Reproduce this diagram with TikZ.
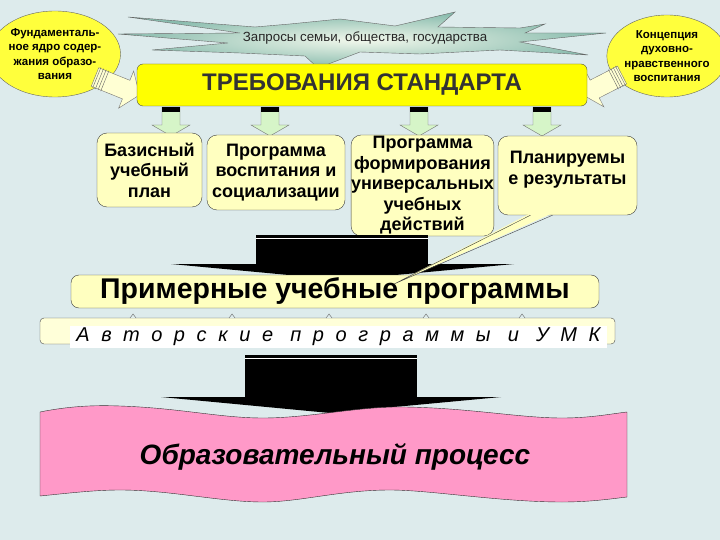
\documentclass[tikz,border=0pt]{standalone}
\usepackage{fontspec}
\setmainfont{Liberation Sans}
\usetikzlibrary{shapes.geometric}
\usetikzlibrary{calc}

\definecolor{bgblue}{RGB}{221,235,236}
\definecolor{stdyellow}{RGB}{255,255,0}
\definecolor{ballyellow}{RGB}{255,255,60}
\definecolor{paleyellow}{RGB}{255,255,192}
\definecolor{palegreen}{RGB}{214,245,200}
\definecolor{starlight}{RGB}{242,248,236}
\definecolor{starteal}{RGB}{80,155,140}
\definecolor{pinkband}{RGB}{255,153,200}

\tikzset{
    ball/.style={ellipse, draw=black!60, fill=ballyellow, inner sep=0pt, align=center,
        font=\bfseries\fontsize{11.5}{14.5}\selectfont},
    box/.style={rectangle, rounded corners=10pt, draw=black!75, fill=paleyellow,
        inner sep=0pt, align=center, font=\bfseries\fontsize{18}{20.5}\selectfont},
    downarrow/.style={draw=black!55, fill=palegreen},
    callout/.style={draw=black!55, fill=paleyellow!70!white},
}

\begin{document}
\begin{tikzpicture}[x=1pt, y=-1pt]
    \fill[bgblue] (0,0) rectangle (720,540);
    \useasboundingbox (0,0) rectangle (720,540);

    \draw[black!60, inner color=starlight, outer color=starteal!65!starlight]
        (128,17) -- (255,27) -- (290,24) -- (340,19) -- (395,26) -- (455,12) -- (438,27)
        -- (520,28) -- (545,24) -- (525,33) -- (606,33) -- (520,42) -- (588,55) -- (500,50)
        -- (420,54) -- (360,52) -- (318,68) -- (305,56) -- (240,53) -- (152,50) -- (228,43)
        -- (118,34) -- (240,33) -- cycle;
    \node[font=\fontsize{13.3}{15}\selectfont, text=black!85] (zapros) at (365,38) {Запросы семьи, общества, государства};

    \node[ball, minimum width=110pt, minimum height=86pt] (fund) at (55,54) {Фундаменталь-\\ное ядро содер-\\жания образо-\\вания};
    \node[ball, minimum width=114pt, minimum height=82pt] (konc) at (667,56) {Концепция\\духовно-\\нравственного\\воспитания};

    \coordinate (ltail) at (95,77);
    \coordinate (lhead) at (139.5,95);
    \coordinate (rtail) at (622,75);
    \coordinate (rhead) at (583,95);
    \foreach \a/\b in {ltail/lhead, rtail/rhead} {
        \coordinate (s) at ($(\a)!0.7!(\b)$);
        \draw[callout] ($(\a)!10pt!90:(\b)$) -- ($(s)!10pt!90:(\b)$) -- ($(s)!20pt!90:(\b)$) -- (\b)
            -- ($(s)!20pt!-90:(\b)$) -- ($(s)!10pt!-90:(\b)$) -- ($(\a)!10pt!-90:(\b)$) -- cycle;
        \foreach \t in {0.04,0.1,0.16,0.22} {
            \coordinate (h) at ($(\a)!\t!(\b)$);
            \draw[black!60] ($(h)!11pt!90:(\b)$) -- ($(h)!11pt!-90:(\b)$);
        }
    }

    \node[draw=black!70, fill=stdyellow, rounded corners=6pt, minimum width=450pt, minimum height=42pt,
        font=\bfseries\fontsize{24}{26}\selectfont, text=black!80] (std) at (362,85) {ТРЕБОВАНИЯ СТАНДАРТА};

    \foreach \x in {171,270,419,542} {
        \draw[downarrow] (\x-9,107) -- (\x+9,107) -- (\x+9,125) -- (\x+19,125) -- (\x,136)
            -- (\x-19,125) -- (\x-9,125) -- cycle;
        \fill[black] (\x-9,107) rectangle (\x+9,112);
    }

    \node[box, minimum width=105pt, minimum height=74pt] (bazis) at (149.5,170) {Базисный\\учебный\\план};
    \node[box, minimum width=138pt, minimum height=75pt] (vosp) at (276,172.5) {Программа\\воспитания и\\социализации};
    \node[box, minimum width=141pt, minimum height=101pt] (uud) at (422.5,185.5) {Программа\\формирования\\универсальных\\учебных\\действий};
    \node[box, minimum width=139pt, minimum height=79pt] (plan) at (567.5,175.5) {};
    \node[font=\bfseries\fontsize{18}{21.5}\selectfont, align=center] (plantext) at ([yshift=6pt]plan.center) {Планируемы\\е результаты};

    \fill[black] (256,235) rectangle (428,264);
    \fill[black] (171,264) -- (514,264) -- (342,280) -- cycle;
    \draw[white, line width=1.2pt] (256,238.5) -- (428,238.5);

    \node[box, rounded corners=8pt, minimum width=528pt, minimum height=33pt,
        font=\bfseries\fontsize{28.5}{30}\selectfont] (prim) at (335,291.5) {Примерные учебные программы};

    \draw[black!70, rounded corners=4pt, fill=paleyellow!60!white] (40,318) rectangle (615,344);
    \foreach \x in {133,232,329,426,522}
        \draw[black!60, fill=bgblue] (\x-3,318) -- (\x,314) -- (\x+3,318);
    \node[fill=white, minimum width=537pt, minimum height=22pt, inner sep=0pt,
        font=\itshape\fontsize{20}{22}\selectfont\addfontfeature{LetterSpace=58}] (avt) at (338.5,337) {Авторские программы и УМК};

    \fill[black] (245,355) rectangle (417,397);
    \fill[black] (161,397) -- (501,397) -- (330,413) -- cycle;
    \draw[white, line width=1.2pt] (245,358.5) -- (417,358.5);

    \draw[black!80, fill=pinkband] (40,412) .. controls (70,406) and (95,405) .. (120,406)
        .. controls (180,408) and (220,418) .. (263,418) .. controls (310,418) and (360,406) .. (405,407)
        .. controls (470,408) and (520,418) .. (562,418) .. controls (590,418) and (610,414) .. (627,412)
        -- (627,497) .. controls (610,499) and (590,502) .. (562,502) .. controls (500,502) and (430,490) .. (390,490)
        .. controls (340,490) and (300,502) .. (263,502) .. controls (220,502) and (170,490) .. (120,490)
        .. controls (95,490) and (70,493) .. (40,496) -- cycle;
    \node[font=\bfseries\itshape\fontsize{28}{30}\selectfont] (obr) at (335,457) {Образовательный процесс};

    \coordinate (ptip) at (394,284);
    \fill[paleyellow] ([xshift=-37pt, yshift=2pt]plan.south) -- (ptip) -- ([xshift=-15pt, yshift=2pt]plan.south) -- cycle;
    \draw[black!75] ([xshift=-37pt]plan.south) -- (ptip) -- ([xshift=-15pt]plan.south);
\end{tikzpicture}
\end{document}
